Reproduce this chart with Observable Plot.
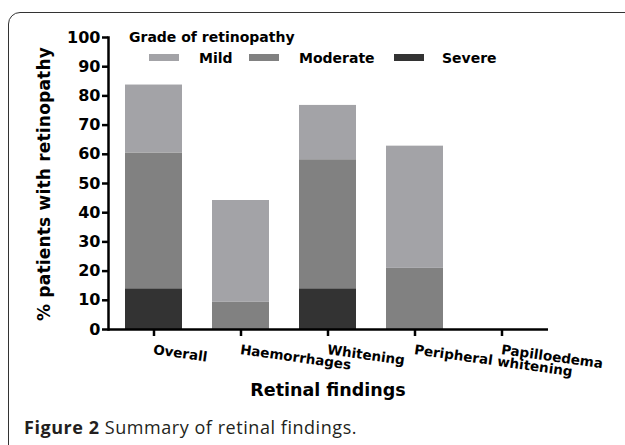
<!DOCTYPE html>
<html>
<head>
<meta charset="utf-8">
<script src="https://cdn.jsdelivr.net/npm/d3@7"></script>
<script src="https://cdn.jsdelivr.net/npm/@observablehq/plot@0.6"></script>
<style>
  html, body { margin: 0; padding: 0; background: #fff; }
  #wrap { position: relative; width: 625px; height: 445px; overflow: hidden; font-family: "DejaVu Sans", sans-serif; }
  #border { position: absolute; left: 8px; top: 12px; width: 660px; height: 480px; border: 1.5px solid #333; border-radius: 12px; box-sizing: border-box; }
  #chart { position: absolute; left: 0; top: 0; }
  .abs { position: absolute; white-space: nowrap; line-height: 1; color: #000; font-weight: bold; }
  #ytitle { left: 44px; top: 184px; font-size: 17px; letter-spacing: 0.2px; transform: translate(-50%, -50%) rotate(-90deg); }
  #xtitle { left: 328px; top: 382px; font-size: 17.5px; transform: translateX(-50%); }
  #legtitle { left: 129px; top: 30px; font-size: 14px; }
  .sw { position: absolute; width: 30px; height: 7px; top: 54px; }
  .lab { top: 51px; font-size: 14px; }
  #caption { position: absolute; left: 24px; top: 418px; font-family: "Open Sans", sans-serif; font-size: 18px; letter-spacing: 0.55px; color: #231f20; white-space: nowrap; line-height: 1; }
</style>
</head>
<body>
<div id="wrap">
  <div id="border"></div>
  <div id="chart"></div>
  <div class="abs" id="ytitle">% patients with retinopathy</div>
  <div class="abs" id="xtitle">Retinal findings</div>
  <div class="abs" id="legtitle">Grade of retinopathy</div>
  <div id="legend"></div>
  <div id="caption"><b>Figure 2</b> Summary of retinal findings.</div>
</div>
<script>
const categories = ["Overall", "Haemorrhages", "Whitening", "Peripheral whitening", "Papilloedema"];
const severe   = [13.95, 0, 13.95, 0, 0];
const moderate = [46.51, 9.30, 44.19, 20.93, 0];
const mild     = [23.26, 34.88, 18.60, 41.86, 0];
const grades = ["Mild", "Moderate", "Severe"];
const gradeColors = ["#a3a3a7", "#818181", "#333333"];
const yTicks = [0, 10, 20, 30, 40, 50, 60, 70, 80, 90, 100];

const rows = [];
categories.forEach((c, i) => {
  rows.push({category: c, grade: "Severe", value: severe[i]});
  rows.push({category: c, grade: "Moderate", value: moderate[i]});
  rows.push({category: c, grade: "Mild", value: mild[i]});
});

const font = "DejaVu Sans, sans-serif";
const chart = Plot.plot({
  width: 625,
  height: 400,
  marginLeft: 108,
  marginRight: 77,
  marginTop: 37,
  marginBottom: 71,
  style: {fontFamily: font, color: "#000", background: "transparent", overflow: "visible"},
  x: {domain: categories, paddingInner: 0.34, paddingOuter: 0.18, label: null},
  y: {domain: [0, 100], label: null},
  color: {domain: grades, range: gradeColors},
  marks: [
    Plot.barY(rows, {x: "category", y: "value", fill: "grade", order: null}),
    Plot.axisY({ticks: yTicks, tickSize: 6, tickPadding: 2, strokeWidth: 2.5, fontSize: 16, fontWeight: "bold", label: null, fill: "#000"}),
    Plot.axisX({tickSize: 7, tickPadding: 8, tickRotate: 8, textAnchor: "start", strokeWidth: 2.5, fontSize: 13.5, fontWeight: "bold", label: null, fill: "#000"}),
    Plot.frame({anchor: "left", stroke: "#000", strokeWidth: 2.5}),
    Plot.ruleY([0], {stroke: "#000", strokeWidth: 2.5})
  ]
});
document.getElementById("chart").appendChild(chart);

// legend (HTML, colors taken from the chart's color scale)
const color = chart.scale("color");
const legend = document.getElementById("legend");
const swX = [149, 249, 394];
const labX = [199, 299, 442];
grades.forEach((g, i) => {
  const sw = document.createElement("div");
  sw.className = "sw";
  sw.style.left = swX[i] + "px";
  sw.style.background = color.apply(g);
  legend.appendChild(sw);
  const lb = document.createElement("div");
  lb.className = "abs lab";
  lb.style.left = labX[i] + "px";
  lb.textContent = g;
  legend.appendChild(lb);
});
</script>
</body>
</html>
